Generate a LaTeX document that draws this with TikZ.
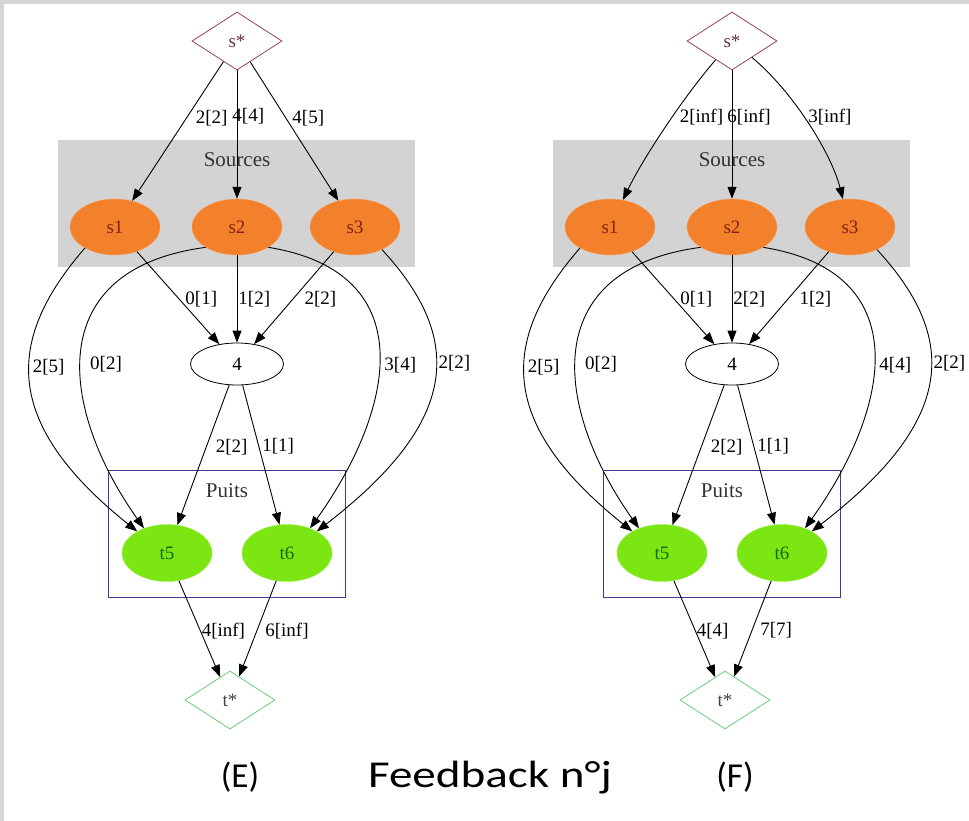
\documentclass[tikz,border=0pt]{standalone}
\usepackage{fontspec}
\usepackage{graphicx}
\setmainfont{Liberation Serif}
\newfontfamily\capfont{Carlito}
\usetikzlibrary{shapes.geometric,arrows.meta}
\definecolor{framegray}{RGB}{214,214,214}
\definecolor{srcgray}{RGB}{211,211,211}
\definecolor{srcorange}{RGB}{243,128,43}
\definecolor{srctext}{RGB}{130,35,20}
\definecolor{sinkgreen}{RGB}{124,230,18}
\definecolor{sinktext}{RGB}{20,105,20}
\definecolor{starred}{RGB}{150,70,70}
\definecolor{stargreen}{RGB}{110,205,120}
\definecolor{puitsblue}{RGB}{60,60,140}

\tikzset{
  srcnode/.style={ellipse, fill=srcorange, draw=srcorange!75!white, minimum width=90pt, minimum height=56pt, inner sep=0pt, text=srctext},
  sinknode/.style={ellipse, fill=sinkgreen, draw=sinkgreen!75!white, minimum width=90pt, minimum height=57pt, inner sep=0pt, text=sinktext},
  midnode/.style={ellipse, draw, line width=0.8pt, minimum width=93pt, minimum height=42pt, inner sep=0pt},
  termnode/.style={diamond, fill=white, line width=0.8pt, minimum width=90pt, minimum height=58pt, inner sep=0pt},
  clusterlbl/.style={font=\fontsize{21}{21}\selectfont, text=black!80},
  flowarrow/.style={-{Triangle[length=12pt,width=9pt]}, line width=0.9pt},
  flowlbl/.style={font=\fontsize{19}{19}\selectfont, inner sep=1pt, anchor=west},
}

\begin{document}
\begin{tikzpicture}[x=1pt, y=-1pt, font=\fontsize{19}{19}\selectfont]
\useasboundingbox (0,0) rectangle (969,821);

% Frame
\fill[framegray] (0,0) rectangle (969,4);
\fill[framegray] (0,0) rectangle (4,821);

% Two networks (E) and (F): shift, bows and label places of the s* edges, flows
\foreach \g/\dx/\bv/\bw/\psa/\psc/\sha/\shc/\fla/\flb/\flc/\fld/\fle/\flf/\flg/\flh/\fli/\flj/\flk/\fll/\flm/\fln in {
E/0/0/0/.4/.4/8/5/2[2]/4[4]/4[5]/0[1]/1[2]/2[2]/2[5]/0[2]/3[4]/2[2]/2[2]/1[1]/4[inf]/6[inf],
F/495/10/24/.42/.46/6/3/2[inf]/6[inf]/3[inf]/0[1]/2[2]/1[2]/2[5]/0[2]/4[4]/2[2]/2[2]/1[1]/4[4]/7[7]
} {
\begin{scope}[xshift=\dx pt]
  % Clusters
  \node[fill=srcgray, minimum width=357pt, minimum height=127pt, inner sep=0pt] (srcbox\g) at (236.5,203.5) {};
  \node[clusterlbl] (srclab\g) at (237,160) {Sources};
  \node[draw=puitsblue, line width=0.9pt, minimum width=237pt, minimum height=127pt, inner sep=0pt] (sinkbox\g) at (226.5,533.5) {};
  \node[clusterlbl] (sinklab\g) at (227,491) {Puits};

  % Nodes
  \node[termnode, draw=starred, text=starred!70!black] (ss\g) at (237,41) {s*};
  \node[srcnode] (s1\g) at (115,227) {s1};
  \node[srcnode] (s2\g) at (237,227) {s2};
  \node[srcnode] (s3\g) at (355,227) {s3};
  \node[midnode] (n4\g) at (237,364) {4};
  \node[sinknode] (t5\g) at (167,553) {t5};
  \node[sinknode] (t6\g) at (287,553) {t6};
  \node[termnode, draw=stargreen, text=black!75] (ts\g) at (230,700) {t*};

  % Edges
  \draw[flowarrow] (ss\g) .. controls +({-40.7-0.836*\bv},{62-0.549*\bv}) and +({40.7-0.836*\bv},{-62-0.549*\bv}) .. node[flowlbl, pos=\psa, xshift=\sha pt] {\fla} (s1\g);
  \draw[flowarrow] (ss\g) -- node[flowlbl, pos=.36, xshift=-6pt] {\flb} (s2\g);
  \draw[flowarrow] (ss\g) .. controls +({39.3+0.845*\bw},{62-0.536*\bw}) and +({-39.3+0.845*\bw},{-62-0.536*\bw}) .. node[flowlbl, pos=\psc, xshift=\shc pt] {\flc} (s3\g);
  \draw[flowarrow] (s1\g) -- node[flowlbl, pos=.51, xshift=5pt] {\fld} (n4\g);
  \draw[flowarrow] (s2\g) -- node[flowlbl, pos=.5] {\fle} (n4\g);
  \draw[flowarrow] (s3\g) -- node[flowlbl, pos=.51, xshift=10pt] {\flf} (n4\g);
  \draw[flowarrow] (s1\g.215) .. controls +(-80,92) and +(-135,-108) .. node[flowlbl, pos=.44, xshift=2pt] {\flg} (t5\g.144);
  \draw[flowarrow] (s2\g.213) .. controls +(-165,22) and +(-84,-119) .. node[flowlbl, pos=.54, xshift=8pt] {\flh} (t5\g.133);
  \draw[flowarrow] (s2\g.327) .. controls +(155,25) and +(85,-119) .. node[flowlbl, pos=.54, xshift=4pt] {\fli} (t6\g.47);
  \draw[flowarrow] (s3\g.320) .. controls +(85,92) and +(140,-108) .. node[flowlbl, pos=.42, xshift=1pt] {\flj} (t6\g.36);
  \draw[flowarrow] (n4\g) -- node[flowlbl, pos=.44, xshift=8pt] {\flk} (t5\g);
  \draw[flowarrow] (n4\g) -- node[flowlbl, pos=.44, xshift=2pt] {\fll} (t6\g);
  \draw[flowarrow] (t5\g) -- node[flowlbl, pos=.52] {\flm} (ts\g);
  \draw[flowarrow] (t6\g) -- node[flowlbl, pos=.52, xshift=7pt] {\fln} (ts\g);

  % Caption
  \node[font=\capfont\fontsize{35}{35}\selectfont] (cap\g) at (240,777) {(\g)};
\end{scope}
}

% Title
\node[font=\capfont\fontsize{38}{38}\selectfont] (fbtitle) at (490,778) {\scalebox{1.24}[1]{Feedback n°j}};

\end{tikzpicture}
\end{document}
